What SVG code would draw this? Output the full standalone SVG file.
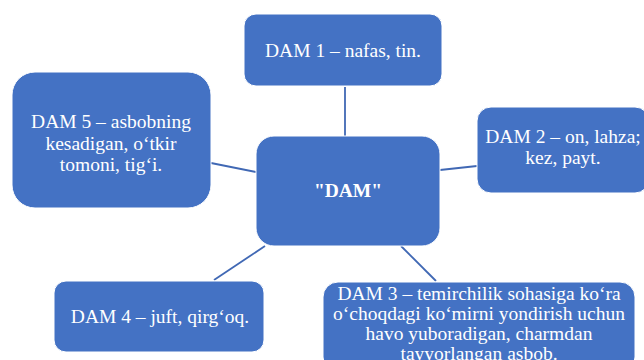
<svg xmlns="http://www.w3.org/2000/svg" width="644" height="360" viewBox="0 0 644 360">
  <style>
    .box { fill: #4472C4; stroke: #ffffff; stroke-width: 1; }
    text { font-family: 'Liberation Serif', 'Times New Roman', serif; font-size: 19.5px; fill: #ffffff; text-anchor: middle; }
    .b { font-weight: bold; }
    .conn line { stroke: #4068B4; stroke-width: 1.8; }
  </style>
  <rect width="644" height="360" fill="#ffffff"/>
  <g id="connectors" class="conn">
    <line x1="345" y1="87" x2="345" y2="136"/>
    <line x1="211" y1="163" x2="256" y2="172"/>
    <line x1="440" y1="170" x2="477" y2="166"/>
    <line x1="265" y1="246" x2="214" y2="280"/>
    <line x1="401" y1="246" x2="436" y2="281"/>
  </g>
  <g id="center">
    <rect class="box" x="256" y="136" width="184" height="110" rx="18"/>
    <text class="b" x="348" y="197">"DAM"</text>
  </g>
  <g id="dam1">
    <rect class="box" x="244" y="14" width="198" height="72" rx="12"/>
    <text x="343" y="57">DAM 1 – nafas, tin.</text>
  </g>
  <g id="dam2">
    <rect class="box" x="477" y="107" width="172" height="86" rx="14"/>
    <text x="563" y="143">DAM 2 – on, lahza;</text>
    <text x="563" y="164">kez, payt.</text>
  </g>
  <g id="dam3">
    <rect class="box" x="323" y="282" width="312" height="90" rx="15"/>
    <text x="479" y="300">DAM 3 – temirchilik sohasiga ko‘ra</text>
    <text x="479" y="319.5">o‘choqdagi ko‘mirni yondirish uchun</text>
    <text x="479" y="339.5">havo yuboradigan, charmdan</text>
    <text x="479" y="359.5">tayyorlangan asbob.</text>
  </g>
  <g id="dam4">
    <rect class="box" x="54" y="281" width="210" height="71" rx="12"/>
    <text x="160" y="323">DAM 4 – juft, qirg‘oq.</text>
  </g>
  <g id="dam5">
    <rect class="box" x="12" y="72" width="199" height="136" rx="23"/>
    <text x="111" y="128">DAM 5 – asbobning</text>
    <text x="111" y="149.5">kesadigan, o‘tkir</text>
    <text x="111" y="171">tomoni, tig‘i.</text>
  </g>
</svg>
